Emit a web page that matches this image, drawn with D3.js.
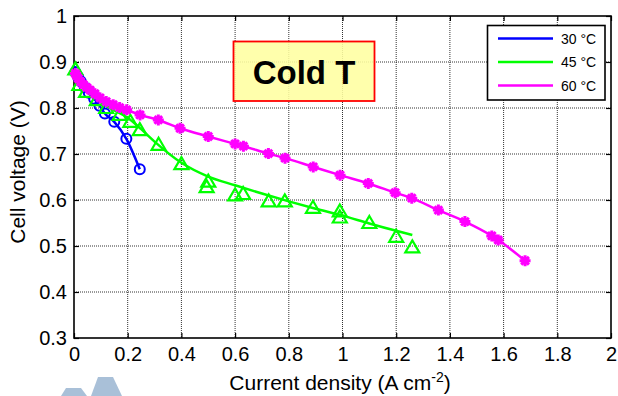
<!DOCTYPE html>
<html><head><meta charset="utf-8">
<script src="https://cdn.jsdelivr.net/npm/d3@7"></script>
<style>html,body{margin:0;padding:0;background:#fff;}svg{display:block;font-family:Arial,"Liberation Sans",sans-serif;}</style>
</head><body>
<svg id="c" width="618" height="396"></svg>
<script>
const xTicks = [0,0.2,0.4,0.6,0.8,1,1.2,1.4,1.6,1.8,2];
const yTicks = [0.3,0.4,0.5,0.6,0.7,0.8,0.9,1];
const xTickLabels = ["0","0.2","0.4","0.6","0.8","1","1.2","1.4","1.6","1.8","2"];
const yTickLabels = ["0.3","0.4","0.5","0.6","0.7","0.8","0.9","1"];
const seriesNames = ["30 \u00B0C","45 \u00B0C","60 \u00B0C"];

// 30 °C measured points
const x30 = [0.005,0.015,0.025,0.04,0.055,0.075,0.095,0.115,0.15,0.195,0.245];
const y30 = [0.878,0.868,0.858,0.845,0.833,0.820,0.805,0.788,0.770,0.733,0.667];
// 45 °C measured points
const x45 = [0.005,0.02,0.045,0.085,0.12,0.17,0.21,0.245,0.315,0.40,0.494,0.50,0.60,0.63,0.725,0.785,0.89,0.99,0.99,1.10,1.20,1.26];
const y45 = [0.884,0.850,0.835,0.817,0.800,0.785,0.770,0.752,0.720,0.678,0.628,0.640,0.610,0.613,0.597,0.597,0.583,0.575,0.562,0.550,0.520,0.497];
// 45 °C fitted curve
const x45fit = [0,0.05,0.1,0.15,0.2,0.25,0.3,0.4,0.5,0.6,0.7,0.8,0.9,1.0,1.1,1.2,1.26];
const y45fit = [0.872,0.835,0.812,0.795,0.779,0.754,0.727,0.681,0.651,0.632,0.614,0.597,0.581,0.566,0.549,0.533,0.524];
// 60 °C measured points
const x60 = [0.005,0.01,0.016,0.025,0.035,0.047,0.06,0.078,0.097,0.12,0.146,0.17,0.196,0.246,0.314,0.395,0.5,0.6,0.631,0.724,0.786,0.891,0.991,1.096,1.196,1.258,1.357,1.456,1.556,1.58,1.68];
const y60 = [0.875,0.870,0.864,0.857,0.851,0.845,0.839,0.831,0.822,0.814,0.807,0.801,0.796,0.785,0.774,0.756,0.738,0.722,0.717,0.701,0.691,0.672,0.654,0.636,0.616,0.604,0.578,0.553,0.522,0.513,0.468];

const colors = ["#0000ff","#00ff00","#ff00ff"];

const svg = d3.select("#c");
const L=74,R=611,T=16,B=338;
const x = d3.scaleLinear().domain([0,2]).range([L,R]);
const y = d3.scaleLinear().domain([0.3,1]).range([B,T]);

// watermark
const wm = svg.append("g").attr("fill","#a9c0d8");
wm.append("polygon").attr("points","61,396 66,388 81,388 87,396");
wm.append("polygon").attr("points","91,396 98,377 113,377 122,396");

// grid
const g = svg.append("g");
g.selectAll(".gx").data(xTicks.slice(1,-1)).join("line")
  .attr("x1",d=>x(d)).attr("x2",d=>x(d)).attr("y1",T).attr("y2",B)
  .attr("stroke","#000").attr("stroke-width",1).attr("stroke-dasharray","1,1").attr("opacity",0.8);
g.selectAll(".gy").data(yTicks.slice(1,-1)).join("line")
  .attr("y1",d=>y(d)).attr("y2",d=>y(d)).attr("x1",L).attr("x2",R)
  .attr("stroke","#000").attr("stroke-width",1).attr("stroke-dasharray","1,1").attr("opacity",0.8);

// axes
const ax = svg.append("g").attr("transform",`translate(0,${B})`)
  .call(d3.axisBottom(x).tickValues(xTicks).tickFormat((d,i)=>xTickLabels[i]).tickSizeInner(-5).tickSizeOuter(0).tickPadding(9));
const ay = svg.append("g").attr("transform",`translate(${L},0)`)
  .call(d3.axisLeft(y).tickValues(yTicks).tickFormat((d,i)=>yTickLabels[i]).tickSizeInner(-5).tickSizeOuter(0).tickPadding(7));
const axT = svg.append("g").attr("transform",`translate(0,${T})`)
  .call(d3.axisTop(x).tickValues(xTicks).tickFormat("").tickSizeInner(-5).tickSizeOuter(0));
const ayR = svg.append("g").attr("transform",`translate(${R},0)`)
  .call(d3.axisRight(y).tickValues(yTicks).tickFormat("").tickSizeInner(-5).tickSizeOuter(0));
[ax,ay,axT,ayR].forEach(a=>{a.select(".domain").remove(); a.selectAll("line").attr("stroke","#000").attr("stroke-width",1.2);
  a.selectAll("text").attr("font-size",20).attr("font-family","Arial, 'Liberation Sans', sans-serif").attr("fill","#000");});
ax.selectAll("text").attr("dy","0.71em");
svg.append("rect").attr("x",L).attr("y",T).attr("width",R-L).attr("height",B-T)
  .attr("fill","none").attr("stroke","#000").attr("stroke-width",1.6);

// lines
const line = d3.line().x(d=>x(d[0])).y(d=>y(d[1])).curve(d3.curveMonotoneX);
const plot = svg.append("g");
plot.append("path").datum(d3.zip(x45fit,y45fit)).attr("d",line).attr("fill","none").attr("stroke",colors[1]).attr("stroke-width",2.5);
plot.append("path").datum(d3.zip(x30,y30)).attr("d",line).attr("fill","none").attr("stroke",colors[0]).attr("stroke-width",2.5);
plot.append("path").datum(d3.zip(x60,y60)).attr("d",line).attr("fill","none").attr("stroke",colors[2]).attr("stroke-width",2.5);

// markers
plot.selectAll(".m30").data(d3.zip(x30,y30)).join("circle")
  .attr("cx",d=>x(d[0])).attr("cy",d=>y(d[1])).attr("r",5)
  .attr("fill","none").attr("stroke",colors[0]).attr("stroke-width",2);
const tri = "M0,-7L7,5L-7,5Z";
plot.selectAll(".m45").data(d3.zip(x45,y45)).join("path")
  .attr("transform",d=>`translate(${x(d[0])},${y(d[1])})`).attr("d",tri)
  .attr("fill","none").attr("stroke",colors[1]).attr("stroke-width",2.2).attr("stroke-linejoin","miter");
const r=5.5, q=r*0.7;
const star = `M${-r},0L${r},0M0,${-r}L0,${r}M${-q},${-q}L${q},${q}M${-q},${q}L${q},${-q}`;
plot.selectAll(".m60").data(d3.zip(x60,y60)).join("path")
  .attr("transform",d=>`translate(${x(d[0])},${y(d[1])})`).attr("d",star)
  .attr("fill","none").attr("stroke",colors[2]).attr("stroke-width",3);

// Cold T box
svg.append("rect").attr("x",233.5).attr("y",41.5).attr("width",141).attr("height",59.5)
  .attr("fill","#ffffa0").attr("fill-opacity",0.88).attr("stroke","#ff0000").attr("stroke-width",1.8);
svg.append("text").attr("x",304).attr("y",84).attr("text-anchor","middle")
  .attr("font-size",33).attr("font-weight","bold").attr("fill","#000").text("Cold T");

// legend
const lg = svg.append("g");
lg.append("rect").attr("x",487.5).attr("y",25.5).attr("width",117.5).attr("height",74.5)
  .attr("fill","#fff").attr("stroke","#000").attr("stroke-width",1.6);
const ly = [38.5,62,85.5];
seriesNames.forEach((n,i)=>{
  lg.append("line").attr("x1",498).attr("x2",553).attr("y1",ly[i]).attr("y2",ly[i]).attr("stroke",colors[i]).attr("stroke-width",2.5);
  lg.append("text").attr("x",561).attr("y",ly[i]+5).attr("font-size",14).attr("fill","#000").text(n);
});

// axis titles
const xt = svg.append("text").attr("x",340).attr("y",390).attr("text-anchor","middle").attr("font-size",21).attr("fill","#000");
xt.append("tspan").text("Current density (A cm");
xt.append("tspan").attr("font-size",14).attr("dy",-8).text("-2");
xt.append("tspan").attr("dy",8).text(")");
svg.append("text").attr("transform","translate(25,172) rotate(-90)").attr("text-anchor","middle")
  .attr("font-size",21).attr("fill","#000").text("Cell voltage (V)");
</script>
</body></html>
